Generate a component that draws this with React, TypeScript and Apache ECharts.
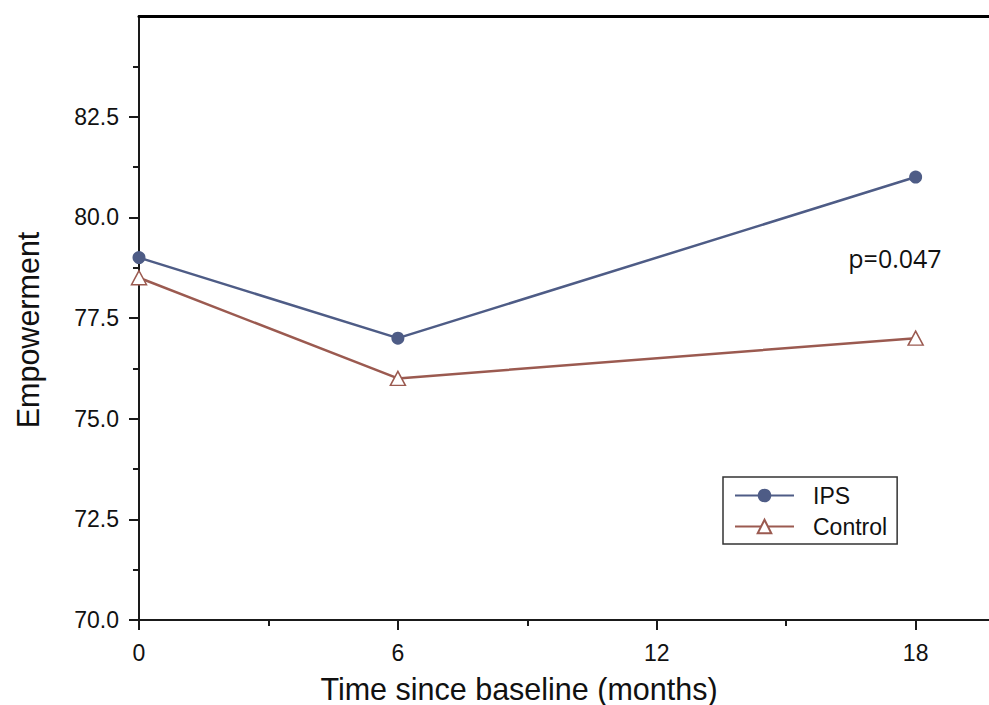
import React, { useEffect, useRef } from 'react';
import * as echarts from 'echarts';

const months = [0, 6, 18];
const ipsValues = [79.0, 77.0, 81.0];
const controlValues = [78.5, 76.0, 77.0];
const seriesNames = ['IPS', 'Control'];
const xMajorTicks = [0, 6, 12, 18];
const xMinorTicks = [3, 9, 15];
const yTicks = [70, 72.5, 75, 77.5, 80, 82.5];
const xTitle = 'Time since baseline (months)';
const yTitle = 'Empowerment';
const pText = 'p=0.047';

export default function App() {
  const ref = useRef<HTMLDivElement>(null);
  useEffect(() => {
    const chart = echarts.init(ref.current as HTMLDivElement, null, { renderer: 'svg' });
    const font = '"Liberation Sans", Arial, sans-serif';
    const axisColor = '#1a1a1a';
    const ipsColor = '#4E5C86';
    const ctlColor = '#9B5A50';
    chart.setOption({
      animation: false,
      backgroundColor: '#ffffff',
      grid: { left: 139, right: 0, top: 16, bottom: 85, containLabel: false },
      xAxis: [
        {
          type: 'value', position: 'bottom', min: 0, max: 19.7, interval: 6,
          axisLine: { lineStyle: { color: axisColor, width: 2 } },
          axisTick: { length: 10, customValues: xMajorTicks, lineStyle: { color: axisColor, width: 2 } },
          axisLabel: {
            margin: 21, fontSize: 23, color: '#111', fontFamily: font,
            customValues: xMajorTicks,
            formatter: (v: number) => String(v),
          },
          splitLine: { show: false },
        },
        {
          type: 'value', position: 'bottom', min: 0, max: 19.7, interval: 3,
          axisLine: { show: false },
          axisTick: { length: 6, customValues: xMinorTicks, lineStyle: { color: axisColor, width: 2 } },
          axisLabel: { show: false },
          splitLine: { show: false },
        },
        {
          type: 'value', position: 'top', min: 0, max: 19.7,
          axisLine: { lineStyle: { color: '#000', width: 3 } },
          axisTick: { show: false },
          axisLabel: { show: false },
          splitLine: { show: false },
        },
      ],
      yAxis: {
        type: 'value', min: 70, max: 85, interval: 2.5,
        axisLine: { lineStyle: { color: axisColor, width: 2 } },
        axisTick: { length: 10, customValues: yTicks, lineStyle: { color: axisColor, width: 2 } },
        minorTick: { show: true, splitNumber: 2, length: 6, lineStyle: { color: axisColor, width: 2 } },
        axisLabel: {
          margin: 20, fontSize: 23, color: '#111', fontFamily: font,
          customValues: yTicks,
          formatter: (v: number) => v.toFixed(1),
        },
        splitLine: { show: false },
      },
      legend: {
        orient: 'vertical', left: 723, top: 477,
        data: seriesNames,
        itemWidth: 59, itemHeight: 17, itemGap: 8,
        padding: [7, 10, 6, 11],
        borderColor: '#333', borderWidth: 1.5,
        backgroundColor: '#fff',
        textStyle: { fontSize: 23, fontFamily: font, color: '#111', padding: [0, 0, 0, 14] },
      },
      series: [
        {
          name: seriesNames[0], type: 'line', xAxisIndex: 0,
          data: months.map((m, i) => [m, ipsValues[i]]),
          symbol: 'circle', symbolSize: 13,
          lineStyle: { color: ipsColor, width: 2.5 },
          itemStyle: { color: ipsColor },
        },
        {
          name: seriesNames[1], type: 'line', xAxisIndex: 0,
          data: months.map((m, i) => [m, controlValues[i]]),
          symbol: 'triangle', symbolSize: [15, 14],
          lineStyle: { color: ctlColor, width: 2.5 },
          itemStyle: { color: '#ffffff', borderColor: ctlColor, borderWidth: 1.5 },
        },
      ],
      graphic: [
        {
          type: 'text', x: 519, y: 689,
          style: { text: xTitle, font: `30.5px ${font}`, fill: '#111', align: 'center', verticalAlign: 'middle' },
        },
        {
          type: 'text', x: 28, y: 330, rotation: Math.PI / 2,
          style: { text: yTitle, font: `30.5px ${font}`, fill: '#111', align: 'center', verticalAlign: 'middle' },
        },
        {
          type: 'text', x: 895, y: 258,
          style: { text: pText, font: `25px "Open Sans", sans-serif`, fill: '#111', align: 'center', verticalAlign: 'middle' },
        },
      ],
    });
    return () => chart.dispose();
  }, []);
  return (
    <div
      ref={ref}
      style={{ position: 'fixed', left: 0, top: 0, width: 989, height: 705, background: '#fff' }}
    />
  );
}
